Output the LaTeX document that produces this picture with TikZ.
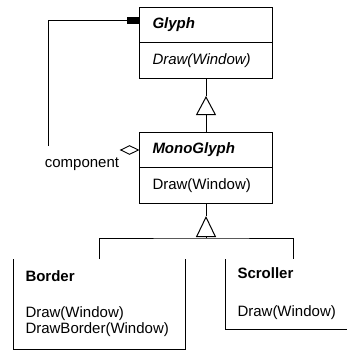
\documentclass[tikz,border=0pt]{standalone}
\usepackage{fontspec}
\setmainfont{Liberation Sans}
\usetikzlibrary{arrows.meta,positioning,shapes.geometric}

\begin{document}
\begin{tikzpicture}[x=1pt, y=1pt, line width=1pt,
  txt/.style={font=\fontsize{15}{16}\selectfont},
  hdr/.style={draw, txt, minimum height=35pt, text width=107pt, inner xsep=13pt,
              align=left, font=\fontsize{15}{16}\selectfont\bfseries\itshape},
  ops/.style={draw, txt, minimum height=36pt, text width=107pt, inner xsep=13pt,
              align=left},
  sub/.style={txt, anchor=north west, inner xsep=12pt, align=left},
  inherit/.style={-{Triangle[open, length=#1, width=20pt, line width=1pt]}},
  compose/.style={-{Square[length=12pt, width=7pt]}},
  agg/.style={diamond, draw, aspect=2, minimum width=18pt, minimum height=9pt,
              inner sep=0pt, line width=0.9pt}]
\clip (0,0) rectangle (347,-350);
% Glyph and MonoGlyph
\node[hdr, anchor=north west] (glyph) at (139,-7) {Glyph};
\node[ops, below=-1pt of glyph, font=\fontsize{15}{16}\selectfont\itshape] (glyphops) {Draw(Window)};
\node[hdr, anchor=north west] (mono) at (139,-132) {MonoGlyph};
\node[ops, below=-1pt of mono] (monoops) {Draw(Window)};
% subclasses
\node[sub, text width=147pt, minimum height=89pt] (border) at (13,-259)
  {\textbf{Border}\\[20pt] Draw(Window)\\ DrawBorder(Window)};
\node[sub, text width=112pt, minimum height=69pt] (scroller) at (225,-259)
  {\textbf{Scroller}\\[22pt] Draw(Window)};
\draw (border.north west) -- (border.south west) -- (border.south east) -- (border.north east);
\draw (scroller.north west) -- (scroller.south west) -- (scroller.south east);

% inheritance
\draw (glyphops.south) -- ++(0,-17) coordinate (apexA);
\draw[inherit=19pt] (mono.north) -- (apexA);
\draw (monoops.south) -- ++(0,-12) coordinate (apexB);
\coordinate (bar) at (206,-238);
\draw (border.north) |- (bar) -| (scroller.north);
\draw[inherit=21pt] (bar) -- (apexB);

% component
\node[agg, anchor=east] (hollow) at (mono.west) {};
\coordinate (compend) at (48,-146);
\draw[compose] (compend) |- (glyph.north west |- 0,-21);
\node[txt, inner sep=0pt] (complabel) at (82,-164) {component};
\end{tikzpicture}
\end{document}
